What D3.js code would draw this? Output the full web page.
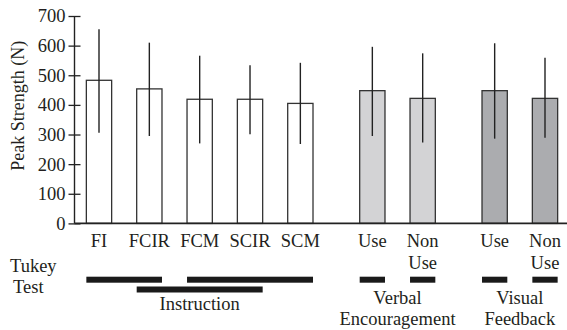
<!DOCTYPE html>
<html>
<head>
<meta charset="utf-8">
<script src="https://cdn.jsdelivr.net/npm/d3@7/dist/d3.min.js"></script>
<style>
  html, body { margin: 0; padding: 0; background: #fff; }
  svg { display: block; }
</style>
</head>
<body>
<svg id="chart" width="567" height="330"></svg>
<script>
// ---- data ----
const categories = ["FI", "FCIR", "FCM", "SCIR", "SCM", "Use", "Non Use", "Use", "Non Use"];
const groups = ["Instruction", "Instruction", "Instruction", "Instruction", "Instruction",
                "Verbal Encouragement", "Verbal Encouragement", "Visual Feedback", "Visual Feedback"];
const means = [483, 454, 419, 419, 405, 448, 422, 448, 422];
const errHigh = [655, 610, 566, 534, 542, 596, 574, 608, 559];
const errLow = [306, 295, 270, 301, 268, 295, 273, 286, 289];
const yTicks = [0, 100, 200, 300, 400, 500, 600, 700];
const groupNames = ["Instruction", "Verbal Encouragement", "Visual Feedback"];
const groupLabelLines = [["Instruction"], ["Verbal", "Encouragement"], ["Visual", "Feedback"]];
// Tukey homogeneous subsets: [first index, last index, row]
const tukeySets = [[0, 1, 0], [1, 3, 1], [2, 4, 0], [5, 5, 0], [6, 6, 0], [7, 7, 0], [8, 8, 0]];
const fills = { "Instruction": "#ffffff", "Verbal Encouragement": "#d3d3d5", "Visual Feedback": "#abacaf" };

// ---- layout ----
const FONT = "'Liberation Serif', 'Times New Roman', serif";
const TXT = "#231f20";
const svg = d3.select("#chart");
const groupGap = 0.43;
const slots = categories.map((c, i) => i + groupNames.indexOf(groups[i]) * groupGap);
const x = d3.scaleLinear().domain([0, d3.max(slots)]).range([99, 545]);
const bw = 25.3;
const y = d3.scaleLinear().domain([0, 700]).range([223.4, 16]);
const axisX = 74.5;

function txt(sel, size) {
  return sel.style("font-family", FONT).style("font-size", size || "18.5px").style("fill", TXT);
}

// bars
svg.append("g").selectAll("rect").data(categories).join("rect")
  .attr("x", (d, i) => x(slots[i]) - bw / 2)
  .attr("y", (d, i) => y(means[i]))
  .attr("width", bw)
  .attr("height", (d, i) => y(0) - y(means[i]))
  .attr("fill", (d, i) => fills[groups[i]])
  .attr("stroke", "#333")
  .attr("stroke-width", 1.3);

// error bars
svg.append("g").selectAll("line").data(categories).join("line")
  .attr("x1", (d, i) => x(slots[i]))
  .attr("x2", (d, i) => x(slots[i]))
  .attr("y1", (d, i) => y(errHigh[i]))
  .attr("y2", (d, i) => y(errLow[i]))
  .attr("stroke", "#222")
  .attr("stroke-width", 1.4);

// y axis
const yAxis = d3.axisLeft(y).tickValues(yTicks).tickSizeInner(-6).tickSizeOuter(0).tickPadding(3);
const gy = svg.append("g").attr("transform", `translate(${axisX},0)`).call(yAxis);
gy.select(".domain").remove();
gy.append("line").attr("x1", 0).attr("x2", 0).attr("y1", y(700)).attr("y2", y(0))
  .attr("stroke", "#222").attr("stroke-width", 1.4);
gy.selectAll(".tick line").attr("x1", -6).attr("x2", 6).attr("stroke", "#222").attr("stroke-width", 1.3);
txt(gy.selectAll(".tick text").attr("x", -9));

// baseline
svg.append("line").attr("x1", axisX).attr("x2", 567).attr("y1", y(0)).attr("y2", y(0))
  .attr("stroke", "#222").attr("stroke-width", 1.8);

// y label
txt(svg.append("text")
  .attr("transform", `translate(24,${(y(0) + y(700)) / 2 - 14}) rotate(-90)`)
  .attr("text-anchor", "middle")
  .text("Peak Strength (N)"), "18px");

// x category labels
const xl = txt(svg.append("g").selectAll("text").data(categories).join("text")
  .attr("text-anchor", "middle")
  .attr("y", 247));
xl.each(function (d, i) {
  const parts = d.split(" ");
  d3.select(this).selectAll("tspan").data(parts).join("tspan")
    .attr("x", x(slots[i]))
    .attr("dy", (p, j) => j === 0 ? 0 : 21.5)
    .text(p => p);
});

// Tukey label
txt(svg.append("text").attr("x", 10).attr("y", 271.5).text("Tukey"));
txt(svg.append("text").attr("x", 13).attr("y", 293).text("Test"));

// Tukey bars
const rowY = [279.7, 289.5];
svg.append("g").selectAll("rect").data(tukeySets).join("rect")
  .attr("x", d => x(slots[d[0]]) - bw / 2)
  .attr("width", d => x(slots[d[1]]) - x(slots[d[0]]) + bw)
  .attr("y", d => rowY[d[2]] - 3)
  .attr("height", 6)
  .attr("fill", "#1a1a1a");

// group labels
const labelBase = [310, 303.5, 303.5];
groupNames.forEach((g, gi) => {
  const idx = groups.map((v, i) => v === g ? i : -1).filter(i => i >= 0);
  const cx = (x(slots[idx[0]]) + x(slots[idx[idx.length - 1]])) / 2;
  const t = txt(svg.append("text").attr("text-anchor", "middle").attr("y", labelBase[gi]));
  t.selectAll("tspan").data(groupLabelLines[gi]).join("tspan")
    .attr("x", cx).attr("dy", (p, j) => j === 0 ? 0 : 21.8).text(p => p);
});
</script>
</body>
</html>
